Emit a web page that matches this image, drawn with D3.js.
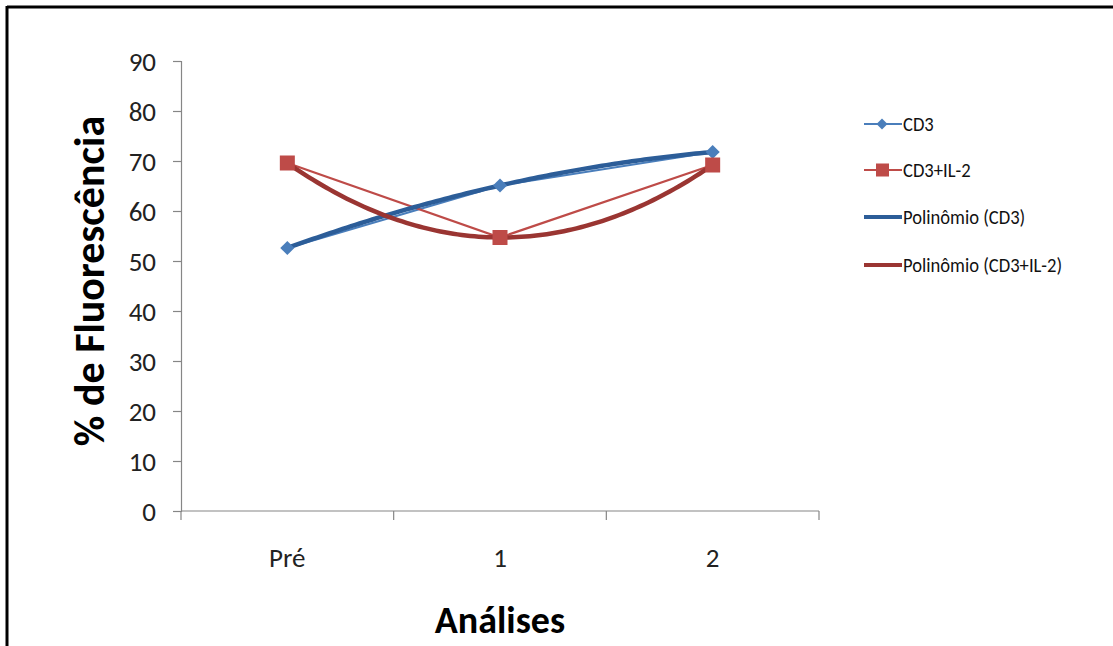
<!DOCTYPE html>
<html>
<head>
<meta charset="utf-8">
<script src="https://cdn.jsdelivr.net/npm/d3@7"></script>
<style>
  html, body { margin: 0; padding: 0; background: #fff; }
  svg { display: block; }
</style>
</head>
<body>
<svg id="chart" width="1113" height="646"></svg>
<script>
// Categories and measured values
const categories = ["Pré", "1", "2"];
const cd3 = [52.6, 65.1, 71.8];
const cd3il2 = [69.6, 54.7, 69.2];
const yTicks = [0, 10, 20, 30, 40, 50, 60, 70, 80, 90];
const seriesNames = ["CD3", "CD3+IL-2", "Polinômio (CD3)", "Polinômio (CD3+IL-2)"];

const svg = d3.select("#chart");
const font = "Calibri, Carlito, 'Open Sans', 'Noto Sans', sans-serif";

// Outer frame (top and left edges visible)
svg.append("line").attr("x1", 7).attr("x2", 1113).attr("y1", 7).attr("y2", 7)
  .attr("stroke", "#000").attr("stroke-width", 3);
svg.append("line").attr("x1", 7).attr("x2", 7).attr("y1", 6).attr("y2", 646)
  .attr("stroke", "#000").attr("stroke-width", 3);

const plot = { left: 181, right: 819, top: 61, bottom: 511 };

const x = d3.scaleBand().domain(categories).range([plot.left, plot.right]);
const y = d3.scaleLinear().domain([0, 90]).range([plot.bottom, plot.top]);
const xc = i => x(categories[i]) + x.bandwidth() / 2;

const axisColor = "#868686";

// Y axis
const yAxis = svg.append("g").attr("transform", `translate(${plot.left},0)`)
  .call(d3.axisLeft(y).tickValues(yTicks).tickSize(8).tickPadding(17).tickFormat(d3.format("d")));
yAxis.select(".domain").attr("stroke", axisColor).attr("stroke-width", 1.2);
yAxis.selectAll(".tick line").attr("stroke", axisColor).attr("stroke-width", 1.2);
yAxis.selectAll(".tick text").attr("font-family", font).attr("font-size", 27).attr("fill", "#222")
  .attr("dy", "0.34em");

// X axis with ticks at category boundaries
const xAxis = svg.append("g").attr("transform", `translate(0,${plot.bottom})`);
xAxis.append("line").attr("x1", plot.left).attr("x2", plot.right).attr("y1", 0).attr("y2", 0)
  .attr("stroke", axisColor).attr("stroke-width", 1.2);
const bounds = categories.map(c => x(c)).concat([plot.right]);
xAxis.selectAll("line.tk").data(bounds).enter().append("line").attr("class", "tk")
  .attr("x1", d => d).attr("x2", d => d).attr("y1", 0).attr("y2", 9)
  .attr("stroke", axisColor).attr("stroke-width", 1.2);
xAxis.selectAll("text").data(categories).enter().append("text")
  .attr("x", (d, i) => xc(i)).attr("y", 56)
  .attr("text-anchor", "middle").attr("font-family", font).attr("font-size", 27).attr("fill", "#222")
  .text(d => d);

// Axis titles
svg.append("text").attr("x", 500).attr("y", 633).attr("text-anchor", "middle")
  .attr("font-family", font).attr("font-weight", "bold").attr("font-size", 38).attr("fill", "#000")
  .text("Análises");
svg.append("text").attr("transform", "translate(104,281) rotate(-90)").attr("text-anchor", "middle")
  .attr("font-family", font).attr("font-weight", "bold").attr("font-size", 42).attr("fill", "#000")
  .text("% de Fluorescência");

// Second-order polynomial through the three points of a series
function polyFit(vals) {
  const xs = vals.map((_, i) => i + 1);
  return t => {
    let s = 0;
    for (let i = 0; i < 3; i++) {
      let term = vals[i];
      for (let j = 0; j < 3; j++) if (j !== i) term *= (t - xs[j]) / (xs[i] - xs[j]);
      s += term;
    }
    return s;
  };
}
const tx = d3.scaleLinear().domain([1, 3]).range([xc(0), xc(2)]);
const samples = d3.range(1, 3.0001, 0.02);

const blue = "#4A7EBB", red = "#BE4B48", blueTrend = "#2C5D98", redTrend = "#9A3532";

const lineGen = d3.line().x(d => d[0]).y(d => d[1]);

// Series lines
svg.append("path").attr("d", lineGen(cd3.map((v, i) => [xc(i), y(v)])))
  .attr("fill", "none").attr("stroke", blue).attr("stroke-width", 2.2);
svg.append("path").attr("d", lineGen(cd3il2.map((v, i) => [xc(i), y(v)])))
  .attr("fill", "none").attr("stroke", red).attr("stroke-width", 2.2);

// Trendlines
const f1 = polyFit(cd3), f2 = polyFit(cd3il2);
svg.append("path").attr("d", lineGen(samples.map(t => [tx(t), y(f1(t))])))
  .attr("fill", "none").attr("stroke", blueTrend).attr("stroke-width", 4.5).attr("stroke-linecap", "round");
svg.append("path").attr("d", lineGen(samples.map(t => [tx(t), y(f2(t))])))
  .attr("fill", "none").attr("stroke", redTrend).attr("stroke-width", 4.5).attr("stroke-linecap", "round");

// Markers
svg.selectAll("path.m1").data(cd3).enter().append("path").attr("class", "m1")
  .attr("d", d3.symbol().type(d3.symbolSquare).size(100))
  .attr("transform", (d, i) => `translate(${xc(i)},${y(d)}) rotate(45)`)
  .attr("fill", blue);
svg.selectAll("rect.m2").data(cd3il2).enter().append("rect").attr("class", "m2")
  .attr("x", (d, i) => xc(i) - 7.5).attr("y", d => y(d) - 7.5)
  .attr("width", 15).attr("height", 15).attr("fill", red);

// Legend
const legendY = [124, 170, 217, 265];
const lg = svg.append("g");
seriesNames.forEach((name, i) => {
  const yy = legendY[i];
  const trend = i >= 2;
  const col = [blue, red, blueTrend, redTrend][i];
  lg.append("line").attr("x1", 864).attr("x2", 902).attr("y1", yy).attr("y2", yy)
    .attr("stroke", col).attr("stroke-width", trend ? 4 : 2);
  if (i === 0) {
    lg.append("path").attr("d", d3.symbol().type(d3.symbolSquare).size(60))
      .attr("transform", `translate(882,${yy}) rotate(45)`).attr("fill", blue);
  } else if (i === 1) {
    lg.append("rect").attr("x", 876).attr("y", yy - 6.5).attr("width", 13).attr("height", 13).attr("fill", red);
  }
  lg.append("text").attr("x", 903).attr("y", yy + 7)
    .attr("font-family", font).attr("font-size", 20)
    .attr("transform", `translate(903,0) scale(0.93,1) translate(-903,0)`)
    .attr("fill", "#111").text(name);
});
</script>
</body>
</html>
